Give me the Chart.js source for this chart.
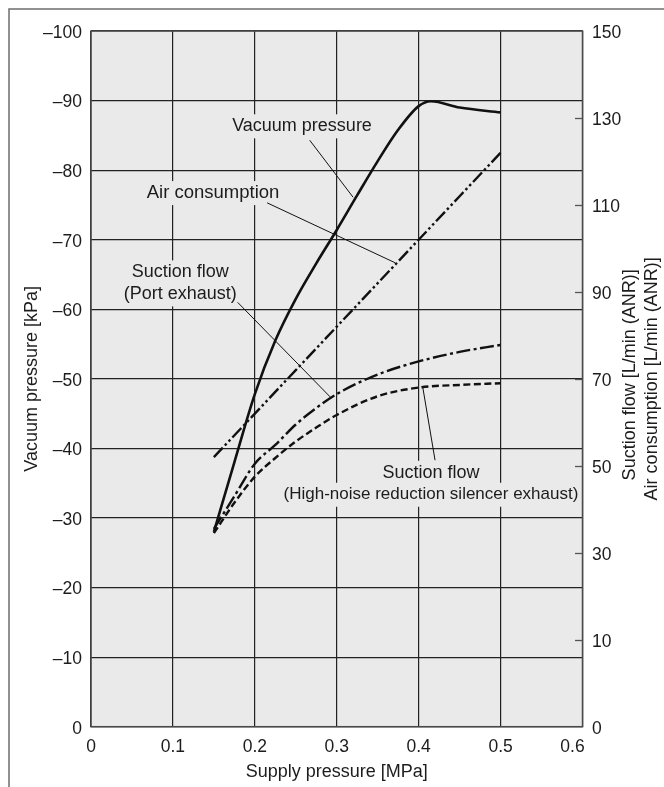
<!DOCTYPE html>
<html><head><meta charset="utf-8">
<script src="https://cdn.jsdelivr.net/npm/chart.js@4.4.1/dist/chart.umd.min.js"></script>
<style>html,body{margin:0;padding:0;background:#fff;}#wrap{position:relative;width:664px;height:787px;}</style>
</head><body><div id="wrap"><canvas id="c" width="664" height="787"></canvas></div>
<script>
// ---- axis ticks ----
const xTickValues = [0, 0.1, 0.2, 0.3, 0.4, 0.5, 0.6];
const xTickLabels = ['0', '0.1', '0.2', '0.3', '0.4', '0.5', '0.6'];
const leftTickValues = [-100, -90, -80, -70, -60, -50, -40, -30, -20, -10, 0];
const leftTickLabels = ['\u2013100', '\u201390', '\u201380', '\u201370', '\u201360', '\u201350', '\u201340', '\u201330', '\u201320', '\u201310', '0'];
const rightTickValues = [-10, 10, 30, 50, 70, 90, 110, 130, 150];
const rightTickLabels = ['0', '10', '30', '50', '70', '90', '110', '130', '150'];

// ---- series (supply pressure MPa) ----
const vacuumX   = [0.15, 0.175, 0.2, 0.225, 0.25, 0.275, 0.3, 0.325, 0.35, 0.375, 0.4, 0.415, 0.45, 0.5];
const vacuumKPa = [-28, -38, -47.8, -55.5, -61.5, -66.6, -71.4, -76.4, -81.3, -85.8, -89.2, -89.9, -89, -88.3];

const airX    = [0.15, 0.2, 0.25, 0.3, 0.35, 0.4, 0.45, 0.5];
const airFlow = [52, 62, 72, 82, 92, 102, 112, 122];

const portX    = [0.15, 0.175, 0.2, 0.225, 0.25, 0.275, 0.3, 0.35, 0.4, 0.45, 0.5];
const portFlow = [35.5, 43, 50.5, 54.8, 59.5, 63.3, 66.5, 71, 74, 76.2, 77.8];

const silencerX    = [0.15, 0.175, 0.2, 0.225, 0.25, 0.275, 0.3, 0.35, 0.4, 0.45, 0.5];
const silencerFlow = [34.5, 41.5, 47.5, 51.8, 55.6, 58.8, 61.7, 66, 68, 68.6, 69];

// ---- annotation texts ----
const noteTexts = [
  ['Vacuum pressure'],
  ['Air consumption'],
  ['Suction flow', '(Port exhaust)'],
  ['Suction flow', '(High-noise reduction silencer exhaust)']
];

const FONT = "'Liberation Sans', Arial, Helvetica, sans-serif";
const INK = '#1c1c1c';
const PLOTBG = '#e9eae9';

// annotation layout (data coordinates on x / left axis)
const notes = [
  { text: noteTexts[0], size: [18], x: 0.2576, y: -86.3, lead: [[0.267, -84.3], [0.320, -76.1]] },
  { text: noteTexts[1], size: [18.5], x: 0.149, y: -76.7, lead: [[0.215, -75.3], [0.371, -66.7]] },
  { text: noteTexts[2], size: [18, 18], x: 0.109, y: -65.3, lead: [[0.179, -61.0], [0.292, -47.4]] },
  { text: noteTexts[3], size: [18, 17], x: 0.415, y: -36.5, lead: [[0.420, -38.3], [0.405, -48.8]] }
];

function pts(xs, ys) { return xs.map((x, i) => ({ x: x, y: ys[i] })); }

const customPlugin = {
  id: 'custom',
  beforeDraw(chart) {
    const c = chart.ctx, a = chart.chartArea;
    c.save();
    c.fillStyle = '#fff';
    c.fillRect(0, 0, chart.width, chart.height);
    c.fillStyle = PLOTBG;
    c.fillRect(a.left, a.top, a.right - a.left, a.bottom - a.top);
    c.restore();
  },
  beforeDatasetsDraw(chart) {
    const c = chart.ctx, sx = chart.scales.x, sy = chart.scales.yL;
    c.save();
    c.fillStyle = PLOTBG;
    notes.forEach(n => {
      const cx = sx.getPixelForValue(n.x), cy = sy.getPixelForValue(n.y);
      n.text.forEach((t, i) => {
        c.font = n.size[i] + 'px ' + FONT;
        const w = c.measureText(t).width + 8;
        c.fillRect(cx - w / 2, cy + i * 22 - 12, w, 24);
      });
    });
    c.restore();
  },
  afterDatasetsDraw(chart) {
    const c = chart.ctx, a = chart.chartArea;
    const sx = chart.scales.x, sy = chart.scales.yL, sr = chart.scales.yR;
    c.save();
    c.strokeStyle = '#4a4a4a';
    c.lineWidth = 1.5;
    c.strokeRect(a.left, a.top, a.right - a.left, a.bottom - a.top);
    c.strokeStyle = '#555';
    c.lineWidth = 1.3;
    rightTickValues.forEach(v => {
      if (v === rightTickValues[0] || v === rightTickValues[rightTickValues.length - 1]) return;
      const y = Math.round(sr.getPixelForValue(v)) + 0.5;
      c.beginPath(); c.moveTo(a.right - 7.5, y); c.lineTo(a.right, y); c.stroke();
    });
    c.fillStyle = INK;
    c.textAlign = 'center';
    c.textBaseline = 'middle';
    notes.forEach(n => {
      const cx = sx.getPixelForValue(n.x), cy = sy.getPixelForValue(n.y);
      n.text.forEach((t, i) => {
        c.font = n.size[i] + 'px ' + FONT;
        c.fillText(t, cx, cy + i * 22);
      });
    });
    c.strokeStyle = '#111';
    c.lineWidth = 1;
    notes.forEach(n => {
      c.beginPath();
      c.moveTo(sx.getPixelForValue(n.lead[0][0]), sy.getPixelForValue(n.lead[0][1]));
      c.lineTo(sx.getPixelForValue(n.lead[1][0]), sy.getPixelForValue(n.lead[1][1]));
      c.stroke();
    });
    c.font = '17.5px ' + FONT;
    c.textBaseline = 'alphabetic';
    xTickValues.forEach((v, i) => {
      let px = sx.getPixelForValue(v);
      if (i === xTickValues.length - 1) px -= 10;
      c.fillText(xTickLabels[i], px, a.bottom + 25);
    });
    c.font = '18px ' + FONT;
    c.textBaseline = 'middle';
    c.fillText('Supply pressure [MPa]', (a.left + a.right) / 2, 772);
    const midY = (a.top + a.bottom) / 2;
    c.save();
    c.translate(32, midY);
    c.rotate(-Math.PI / 2);
    c.fillText('Vacuum pressure [kPa]', 0, 0);
    c.restore();
    c.save();
    c.translate(630, midY - 4);
    c.rotate(-Math.PI / 2);
    c.fillText('Suction flow [L/min (ANR)]', 0, 0);
    c.restore();
    c.save();
    c.translate(652, midY);
    c.rotate(-Math.PI / 2);
    c.fillText('Air consumption [L/min (ANR)]', 0, 0);
    c.restore();
    c.strokeStyle = '#6e6e6e';
    c.lineWidth = 1.5;
    c.beginPath();
    c.moveTo(9, chart.height + 2); c.lineTo(9, 9); c.lineTo(chart.width + 2, 9);
    c.stroke();
    c.restore();
  }
};

const lineBase = { borderColor: '#111', backgroundColor: '#111', borderWidth: 2.4, pointRadius: 0, fill: false, cubicInterpolationMode: 'monotone', borderCapStyle: 'butt' };

new Chart(document.getElementById('c').getContext('2d'), {
  type: 'line',
  data: {
    datasets: [
      Object.assign({}, lineBase, { label: 'Vacuum pressure', data: pts(vacuumX, vacuumKPa), yAxisID: 'yL', borderWidth: 2.6 }),
      Object.assign({}, lineBase, { label: 'Air consumption', data: pts(airX, airFlow), yAxisID: 'yR', borderDash: [13, 3, 2.5, 3, 2.5, 3] }),
      Object.assign({}, lineBase, { label: 'Suction flow (Port exhaust)', data: pts(portX, portFlow), yAxisID: 'yR', borderDash: [14, 3.5, 3, 3.5] }),
      Object.assign({}, lineBase, { label: 'Suction flow (High-noise reduction silencer exhaust)', data: pts(silencerX, silencerFlow), yAxisID: 'yR', borderDash: [7, 3.5] })
    ]
  },
  options: {
    responsive: false,
    animation: false,
    events: [],
    layout: { padding: { top: 31, left: 0, right: 0, bottom: 0 } },
    plugins: { legend: { display: false }, tooltip: { enabled: false } },
    scales: {
      x: {
        type: 'linear', min: 0, max: 0.6,
        afterBuildTicks: s => { s.ticks = xTickValues.map(v => ({ value: v })); },
        ticks: { display: false },
        grid: { color: '#222', lineWidth: 1.2, drawTicks: false },
        border: { display: false },
        afterFit: s => { s.height = 60.3; }
      },
      yL: {
        type: 'linear', position: 'left', min: -100, max: 0, reverse: true,
        afterBuildTicks: s => { s.ticks = leftTickValues.map(v => ({ value: v })); },
        ticks: { callback: v => leftTickLabels[leftTickValues.indexOf(v)], padding: 9, labelOffset: 2, color: INK, font: { family: FONT, size: 17.5 } },
        grid: { color: '#222', lineWidth: 1.2, drawTicks: false },
        border: { display: false },
        afterFit: s => { s.width = 91; }
      },
      yR: {
        type: 'linear', position: 'right', min: -10, max: 150,
        afterBuildTicks: s => { s.ticks = rightTickValues.map(v => ({ value: v })); },
        ticks: { callback: v => rightTickLabels[rightTickValues.indexOf(v)], padding: 9.5, labelOffset: 2, color: INK, font: { family: FONT, size: 17.5 } },
        grid: { display: false, drawTicks: false },
        border: { display: false },
        afterFit: s => { s.width = 81.5; }
      }
    }
  },
  plugins: [customPlugin]
});
</script>
</body></html>
